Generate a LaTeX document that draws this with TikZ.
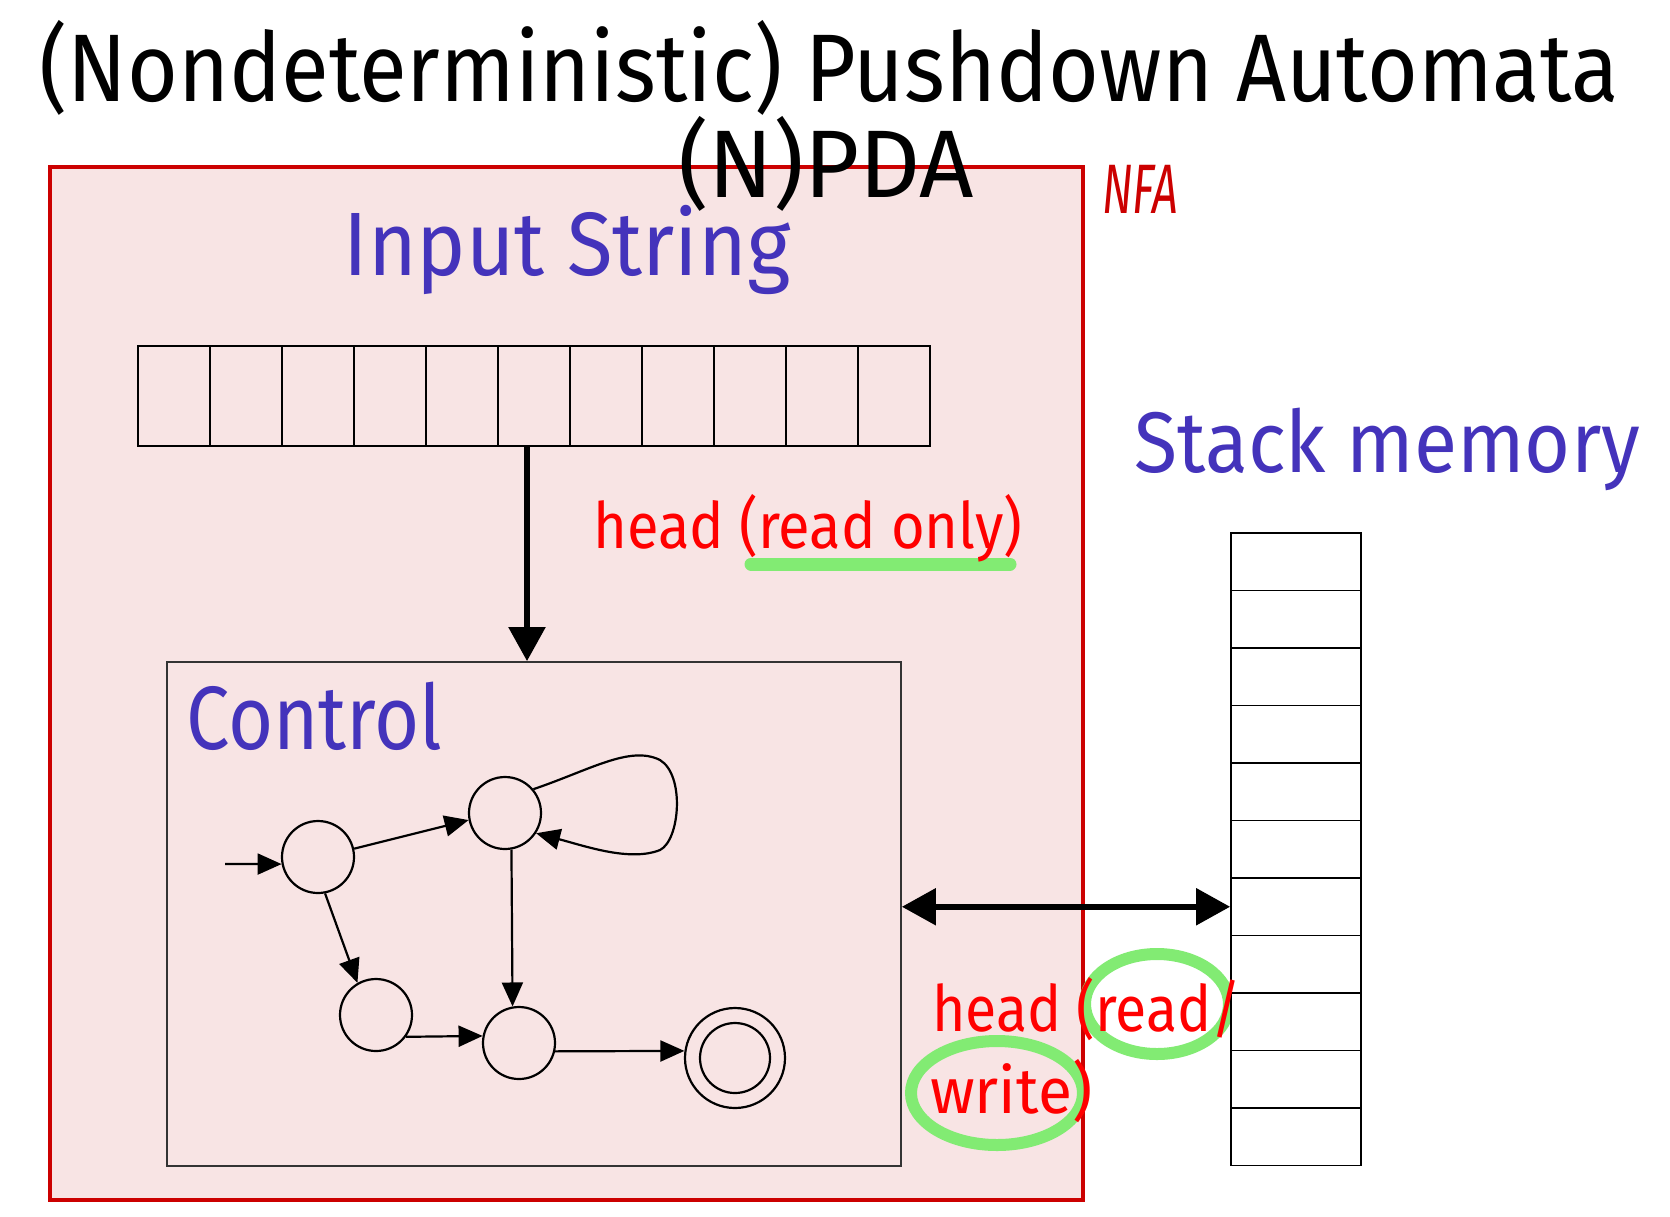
\documentclass[tikz,border=0pt]{standalone}
\usepackage{fontspec}
\setmainfont{Fira Sans}
\usetikzlibrary{arrows.meta}

\definecolor{nfared}{RGB}{204,0,0}
\definecolor{nfapink}{RGB}{248,228,228}
\definecolor{azul}{RGB}{68,51,187}
\definecolor{marca}{RGB}{130,235,115}

% largura fixa, mesma altura
\newcommand{\largura}[2]{\resizebox{#1pt}{\height}{#2}}

\begin{document}
\begin{tikzpicture}[x=1pt, y=-1pt, >={Triangle[length=24pt,width=21pt]},
    estado/.style={circle, draw, line width=2.2pt, minimum size=72pt, inner sep=0pt},
    liga/.style={->, line width=2.2pt},
    fita/.style={draw, line width=1.8pt, minimum width=72pt, minimum height=100pt, inner sep=0pt},
    pilha/.style={draw, line width=1.8pt, fill=white, minimum width=130pt, minimum height=57.5pt, inner sep=0pt},
    grossa/.style={line width=5.5pt, arrows={-Triangle[length=34pt,width=36pt]}},
    marcador/.style={draw=marca, line width=12pt, line cap=round},
    rotulo/.style={text=red, font=\fontsize{64}{70}\selectfont, inner sep=0pt},
    titulo/.style={font=\fontsize{96}{100}\selectfont, inner sep=0pt},
    azulado/.style={text=azul, font=\fontsize{90}{96}\selectfont, inner sep=0pt}]

    % Fundo e caixa do NFA
    \useasboundingbox (0,0) rectangle (1670,1216);
    \fill[white] (0,0) rectangle (1670,1216);
    \draw[nfared, line width=4pt, fill=nfapink] (50,167) rectangle (1083,1200);

    % Marcas verdes
    \draw[marcador, line width=13pt] (751,564) -- (1010,564);
    \draw[marcador] (1157,1004) ellipse [x radius=72, y radius=50];
    \draw[marcador] (997,1093) ellipse [x radius=86, y radius=52];

    % Titulo
    \node[titulo, anchor=base] (tit1) at (829,101) {\largura{1579}{(Nondeterministic) Pushdown Automata}};
    \node[titulo, anchor=base] (tit2) at (826,197) {\largura{296}{(N)PDA}};
    \node[text=nfared, anchor=base west, inner sep=0pt,
          font=\fontsize{70}{70}\selectfont\itshape] (nfa) at (1102,213) {\largura{76}{NFA}};

    % Fita de entrada
    \node[azulado, anchor=base] (input) at (567,275) {\largura{447}{Input String}};
    \foreach \i in {0,...,10}
        \node[fita] (t\i) at ({174+72*\i},396) {};

    % Controle
    \node[draw=black!80, line width=1.8pt, minimum width=734pt, minimum height=504pt] (ctrl) at (534,914) {};
    \node[azulado, anchor=base west] (control) at (186,749) {\largura{256}{Control}};
    \draw[grossa] ([xshift=-7pt]t5.south) -- ([xshift=-7pt]t5.south |- ctrl.north);
    \node[rotulo, anchor=base west] (ro) at (593,548) {\largura{429}{head (read only)}};

    % Automato
    \node[estado] (A) at (318,857) {};
    \node[estado] (B) at (505,813) {};
    \node[estado] (C) at (376,1015) {};
    \node[estado] (D) at (519,1043) {};
    \node[estado, minimum size=100pt] (E) at (735,1058) {};
    \node[estado, minimum size=70pt] (E2) at (735,1058) {};
    \coordinate (ini) at (225,864);
    \draw[liga] (ini) -- (A.191);
    \draw[liga] (A.13) -- (B.191);
    \draw[liga] (A.-79) -- (C.120);
    \draw[liga] (B.-80) -- (D.100);
    \draw[liga] (C.-36) -- (D.169);
    \draw[liga] (D.-13) -- (E.172);
    \draw[liga] (B.40) .. controls (590,770) and (630,745) .. (660,760)
        .. controls (685,775) and (680,840) .. (660,850)
        .. controls (630,862) and (585,846) .. (B.-33);

    % Pilha
    \node[azulado, anchor=base west, font=\fontsize{86}{90}\selectfont] (stack) at (1134,472) {\largura{506}{Stack memory}};
    \foreach \i in {0,...,10}
        \node[pilha] (s\i) at (1296,{561.75+57.5*\i}) {};
    \draw[grossa, arrows={Triangle[length=34pt,width=36pt]-Triangle[length=34pt,width=36pt]}]
        (ctrl.east |- s6.west) -- (s6.west);
    \node[rotulo, anchor=base west] (rw1) at (932,1031) {\largura{309}{head (read/}};
    \node[rotulo, anchor=base west] (rw2) at (930,1113) {\largura{162}{write)}};
\end{tikzpicture}
\end{document}
